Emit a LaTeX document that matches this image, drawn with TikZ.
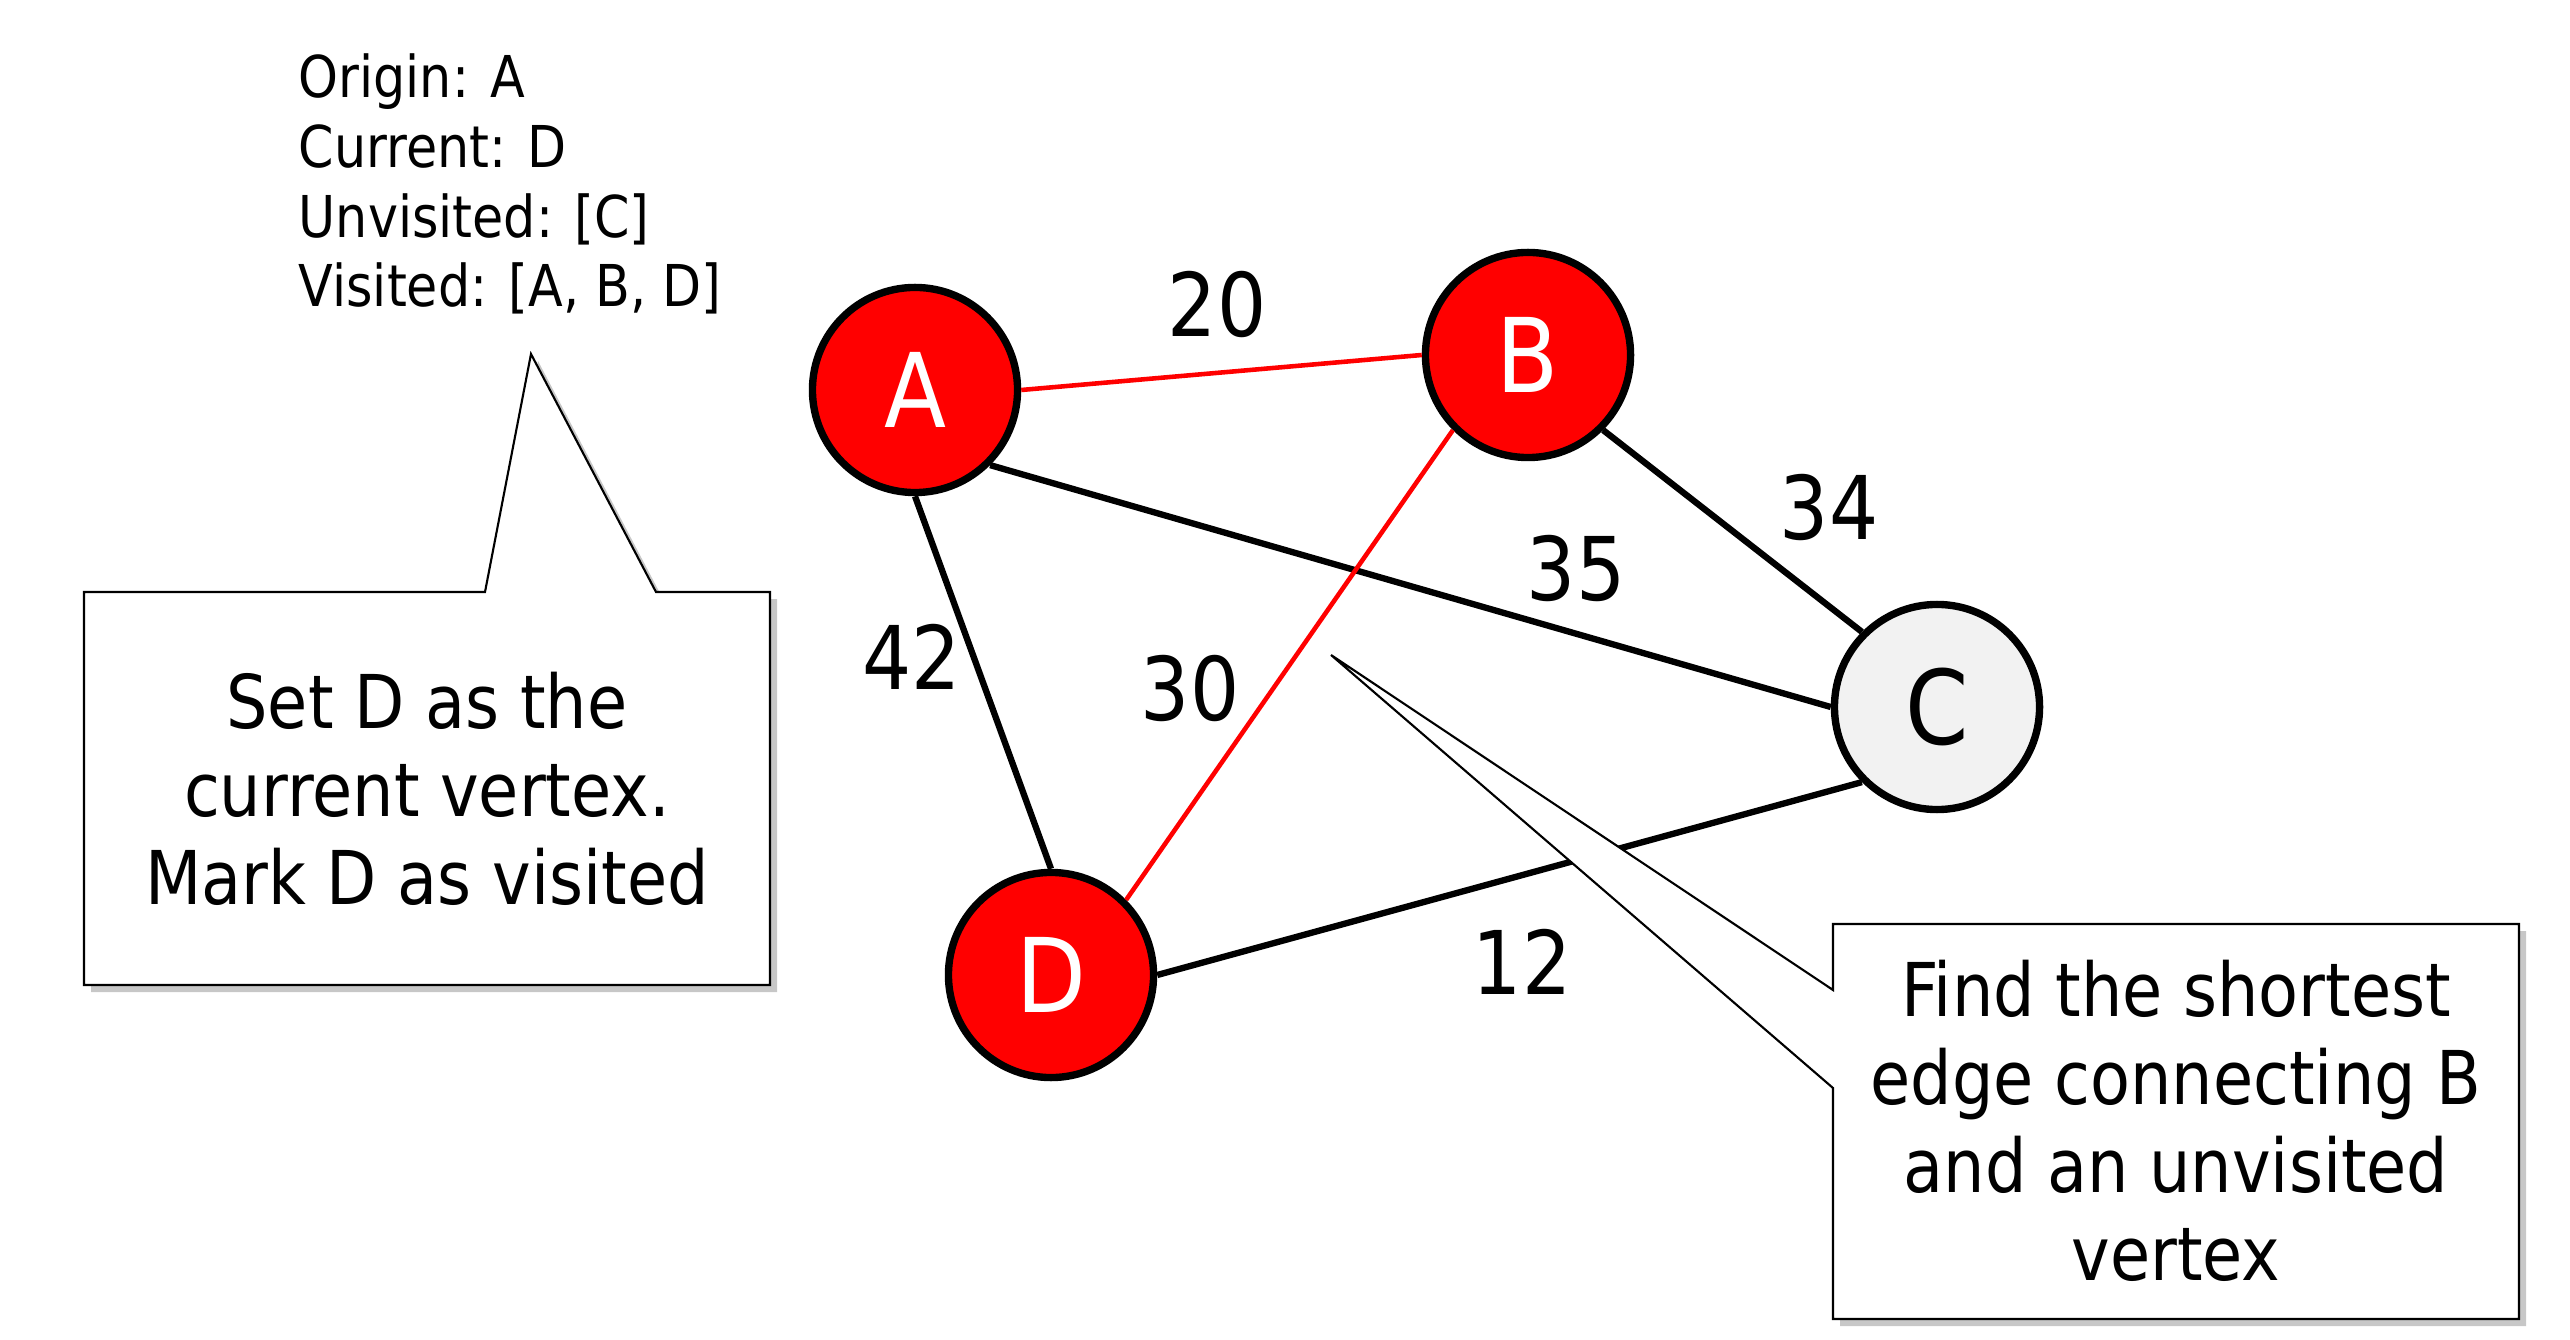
\documentclass[tikz,border=0pt]{standalone}
\usepackage{fontspec}
\setmainfont{DejaVu Sans}[FakeStretch=0.88]
\usetikzlibrary{shadows}
\definecolor{cgrey}{HTML}{F2F2F2}
\definecolor{vred}{HTML}{FF0000}
\begin{document}
\begin{tikzpicture}[x=0.01cm,y=-0.01cm,
  vtx/.style={circle, draw=black, line width=2.1pt, minimum size=2.05cm, inner sep=0pt, font=\fontsize{29.3}{30}\selectfont},
  visited/.style={vtx, fill=vred, text=white},
  unvis/.style={vtx, fill=cgrey, text=black},
  edgeb/.style={line width=1.8pt, black},
  edger/.style={line width=1.3pt, vred},
  wlabel/.style={inner sep=0pt, font=\fontsize{25}{25}\selectfont},
  callout/.style={draw=black, line width=0.6pt, fill=white,
     drop shadow={shadow xshift=2pt, shadow yshift=-2pt, fill=black, opacity=0.22}},
  boxtext/.style={align=center, inner sep=0pt, font=\fontsize{21.1}{25}\selectfont},
  info/.style={align=left, inner sep=0pt, font=\fontsize{16.4}{19.9}\selectfont}]
\useasboundingbox (0,0) rectangle (2570,1340);
\fill[white] (0,0) rectangle (2570,1340);

% vertices
\node[visited] (A) at (915,390) {A};
\node[visited] (B) at (1528,355) {B};
\node[unvis]   (C) at (1937,707) {C};
\node[visited] (D) at (1051,975) {D};

% edges (attached at fixed connection points)
\draw[edger] (A.east) -- (B.west);
\draw[edgeb] (A.south east) -- (C.west);
\draw[edgeb] (A.south) -- (D.north);
\draw[edgeb] (B.south east) -- (C.north west);
\draw[edger] (B.south west) -- (D.north east);
\draw[edgeb] (D.east) -- (C.south west);

% weights
\node[wlabel] (w20) at (1217,305) {20};
\node[wlabel] (w34) at (1829,507) {34};
\node[wlabel] (w35) at (1576,568) {35};
\node[wlabel] (w42) at (912,657) {42};
\node[wlabel] (w30) at (1190,688) {30};
\node[wlabel] (w12) at (1522,962) {12};

% status text (base anchor = last line's baseline)
\node[info, anchor=base west] (info) at (298,307) {Origin: A\\Current: D\\Unvisited: [C]\\Visited: [A, B, D]};

% left callout
\path[callout] (84,592) -- (485,592) -- (531,354) -- (656,592) -- (770,592) -- (770,985) -- (84,985) -- cycle;
\node[boxtext, anchor=base] (ltext) at (427,904) {Set D as the\\current vertex.\\Mark D as visited};

% right callout
\path[callout] (1833,924) -- (2519,924) -- (2519,1319) -- (1833,1319) -- (1833,1088) -- (1331,655) -- (1833,990) -- cycle;
\node[boxtext, anchor=base] (rtext) at (2176,1280) {Find the shortest\\edge connecting B\\and an unvisited\\vertex};
\end{tikzpicture}
\end{document}
